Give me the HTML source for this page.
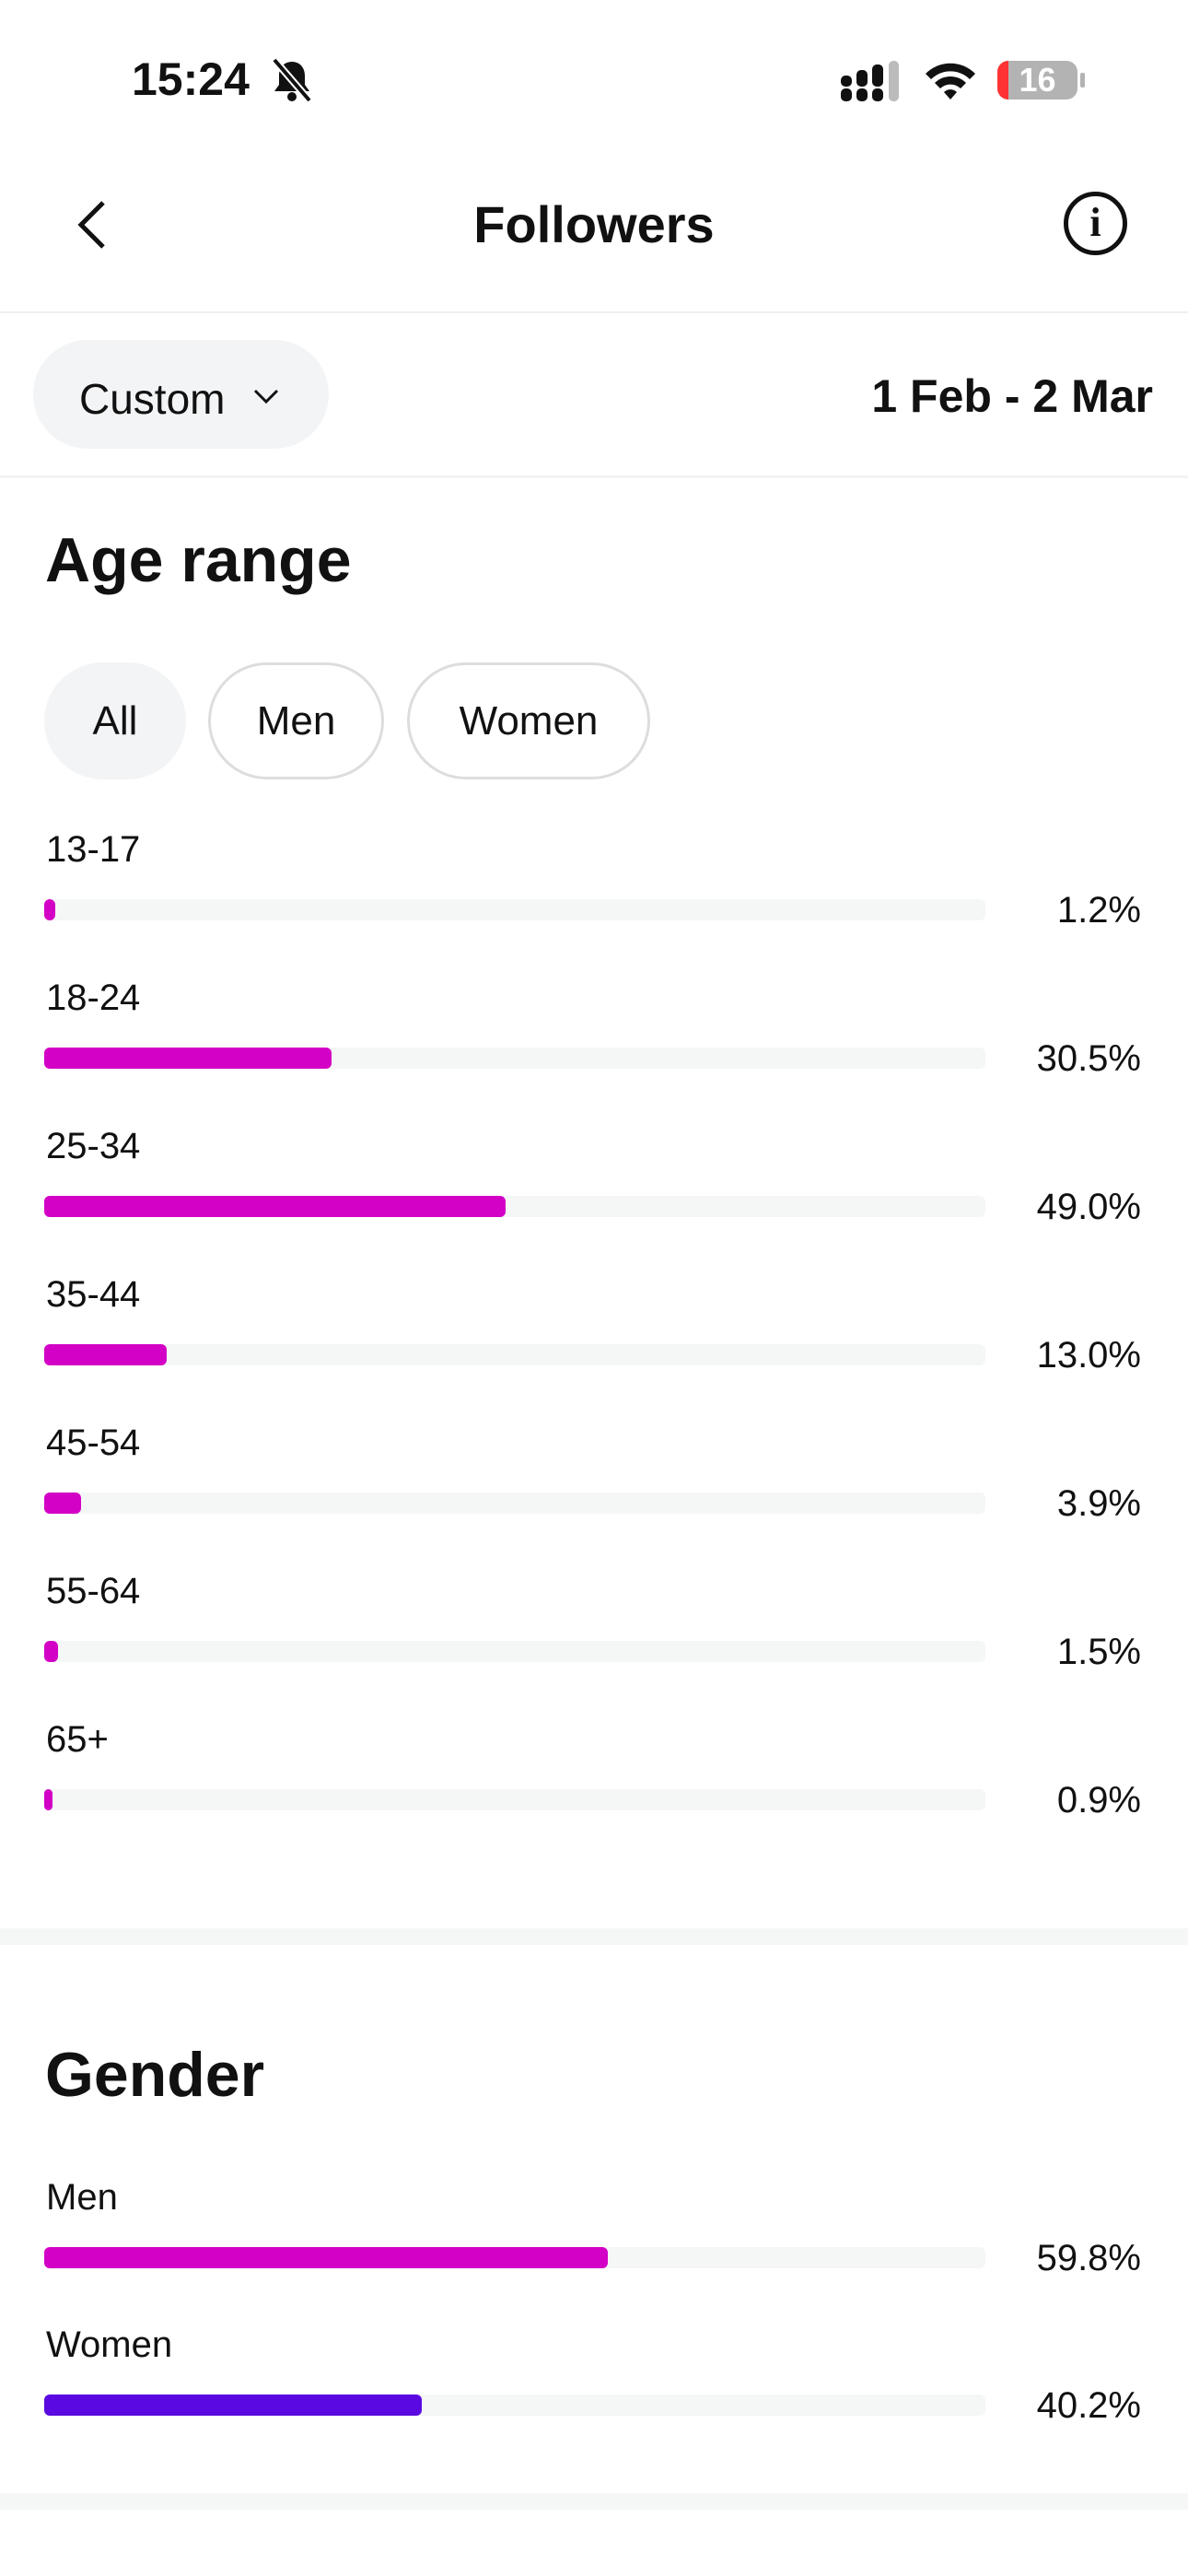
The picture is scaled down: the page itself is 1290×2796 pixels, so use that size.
<!DOCTYPE html>
<html><head><meta charset="utf-8"><style>
*{margin:0;padding:0;box-sizing:border-box}
body{width:1290px;height:2796px;background:#fff;position:relative;font-family:"Liberation Sans",sans-serif;color:#111;overflow:hidden}
.a{position:absolute;white-space:nowrap}
.lbl{font-size:40px;left:50px;line-height:40px}
.pct{font-size:40px;right:51px;line-height:40px;text-align:right}
.tr{position:absolute;left:48px;width:1022px;height:23px;background:#f5f6f6;border-radius:6px}
.fl{position:absolute;left:0;top:0;height:23px;background:#d300c5;border-radius:6px}
.pill{position:absolute;top:719px;height:127px;border-radius:64px;font-size:44px;display:flex;align-items:center;justify-content:center}
</style></head><body>
<div class="a" style="left:143px;top:60px;font-size:50px;font-weight:bold;line-height:52px">15:24</div>
<svg class="a" style="left:292px;top:63px" width="50" height="48" viewBox="0 0 50 48"><path d="M25 4c-9 0-14 7-14 15v10l-5 7h38l-5-7V19c0-8-5-15-14-15z" fill="#111"/><circle cx="25" cy="42" r="5" fill="#111"/><line x1="6" y1="2" x2="44" y2="46" stroke="#fff" stroke-width="8"/><line x1="6" y1="2" x2="44" y2="46" stroke="#111" stroke-width="4"/></svg>
<svg class="a" style="left:913px;top:66px" width="68" height="44"><g fill="#111"><rect x="0" y="30" width="12" height="14" rx="5"/><rect x="17" y="30" width="12" height="14" rx="5"/><rect x="34" y="30" width="12" height="14" rx="5"/><rect x="0" y="16" width="12" height="12" rx="5"/><rect x="17" y="10" width="12" height="18" rx="5"/><rect x="34" y="4" width="12" height="24" rx="5"/></g><rect x="52" y="0" width="11" height="44" rx="5" fill="#bbb"/></svg>
<svg class="a" style="left:1003px;top:64px" width="58" height="46" viewBox="0 0 58 46"><path d="M2 16a38 38 0 0 1 54 0l-6 6a30 30 0 0 0-42 0z" fill="#111"/><path d="M12 26a24 24 0 0 1 34 0l-6 6a16 16 0 0 0-22 0z" fill="#111"/><path d="M22 36a10 10 0 0 1 14 0l-7 8z" fill="#111"/></svg>
<div class="a" style="left:1083px;top:66px;width:87px;height:42px;border-radius:12px;background:#b3b3b3;overflow:hidden"><div style="position:absolute;left:0;top:0;width:12px;height:42px;background:#f33"></div><div style="position:absolute;left:0;width:87px;top:0;text-align:center;color:#fff;font-size:36px;font-weight:bold;line-height:42px">16</div></div>
<div class="a" style="left:1173px;top:79px;width:5px;height:16px;background:#b3b3b3;border-radius:2px"></div>
<svg class="a" style="left:78px;top:214px" width="40" height="60"><polyline points="34,6 10,30 34,54" fill="none" stroke="#111" stroke-width="5"/></svg>
<div class="a" style="left:0;width:1290px;top:214px;text-align:center;font-size:56px;font-weight:bold;line-height:60px">Followers</div>
<div class="a" style="left:1155px;top:208px;width:69px;height:69px;border:5px solid #111;border-radius:50%;text-align:center;font-family:'Liberation Serif',serif;font-weight:bold;font-size:44px;line-height:58px">i</div>
<div class="a" style="left:0;top:338px;width:1290px;height:2px;background:#f0f0f0"></div>
<div class="a" style="left:36px;top:369px;width:321px;height:118px;border-radius:59px;background:#f3f4f6"></div>
<div class="a" style="left:86px;top:408px;font-size:46px;line-height:50px">Custom</div>
<svg class="a" style="left:274px;top:420px" width="30" height="20"><polyline points="3,4 15,16 27,4" fill="none" stroke="#111" stroke-width="3"/></svg>
<div class="a" style="right:38px;top:403px;font-size:50px;font-weight:bold;line-height:54px">1 Feb - 2 Mar</div>
<div class="a" style="left:0;top:516px;width:1290px;height:3px;background:#f3f3f3"></div>
<div class="a" style="left:49px;top:570px;font-size:68px;font-weight:bold;line-height:76px">Age range</div>
<div class="pill" style="left:48px;width:154px;background:#f3f4f6">All</div>
<div class="pill" style="left:226px;width:191px;border:3px solid #ddd">Men</div>
<div class="pill" style="left:442px;width:264px;border:3px solid #ddd">Women</div>

<div class="a lbl" style="top:902px">13-17</div><div class="tr" style="top:976px"><div class="fl" style="width:12px"></div></div><div class="a pct" style="top:968px">1.2%</div>
<div class="a lbl" style="top:1063px">18-24</div><div class="tr" style="top:1137px"><div class="fl" style="width:312px"></div></div><div class="a pct" style="top:1129px">30.5%</div>
<div class="a lbl" style="top:1224px">25-34</div><div class="tr" style="top:1298px"><div class="fl" style="width:501px"></div></div><div class="a pct" style="top:1290px">49.0%</div>
<div class="a lbl" style="top:1385px">35-44</div><div class="tr" style="top:1459px"><div class="fl" style="width:133px"></div></div><div class="a pct" style="top:1451px">13.0%</div>
<div class="a lbl" style="top:1546px">45-54</div><div class="tr" style="top:1620px"><div class="fl" style="width:40px"></div></div><div class="a pct" style="top:1612px">3.9%</div>
<div class="a lbl" style="top:1707px">55-64</div><div class="tr" style="top:1781px"><div class="fl" style="width:15px"></div></div><div class="a pct" style="top:1773px">1.5%</div>
<div class="a lbl" style="top:1868px">65+</div><div class="tr" style="top:1942px"><div class="fl" style="width:9px"></div></div><div class="a pct" style="top:1934px">0.9%</div>

<div class="a" style="left:0;top:2093px;width:1290px;height:18px;background:#f5f6f6"></div>
<div class="a" style="left:49px;top:2214px;font-size:68px;font-weight:bold;line-height:76px">Gender</div>
<div class="a lbl" style="top:2365px">Men</div><div class="tr" style="top:2439px"><div class="fl" style="width:612px"></div></div><div class="a pct" style="top:2431px">59.8%</div>
<div class="a lbl" style="top:2525px">Women</div><div class="tr" style="top:2599px"><div class="fl" style="width:410px;background:#5a0ae0"></div></div><div class="a pct" style="top:2591px">40.2%</div>
<div class="a" style="left:0;top:2706px;width:1290px;height:18px;background:#f5f6f6"></div>
</body></html>
